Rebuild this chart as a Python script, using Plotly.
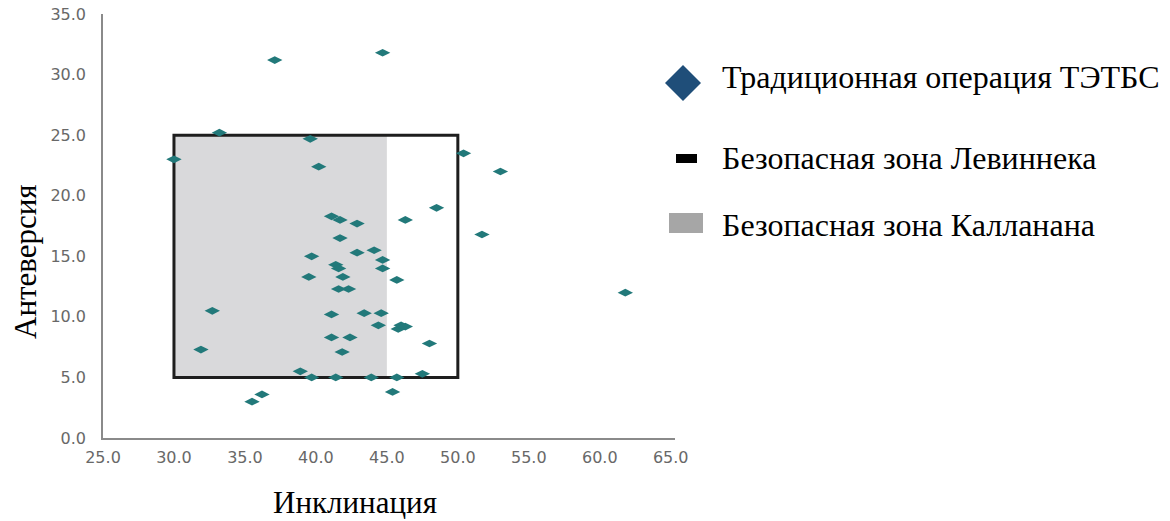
import plotly.graph_objects as go

# Inclination / anteversion measurements (degrees)
inclination = [30.0, 33.2, 37.1, 44.7, 39.6, 40.2, 41.1, 41.7, 42.9, 46.3,
               48.5, 50.4, 53.0, 51.7, 61.8, 41.7, 39.7, 42.9, 44.1, 44.7,
               44.7, 41.4, 41.6, 39.5, 41.9, 45.7, 41.6, 42.3, 32.7, 31.9,
               41.1, 43.4, 44.6, 44.4, 45.8, 46.0, 46.3, 48.0, 41.1, 42.4,
               41.85, 38.9, 39.7, 41.4, 43.9, 45.7, 47.5, 45.4, 35.5, 36.2]
anteversion = [23.0, 25.2, 31.2, 31.8, 24.7, 22.4, 18.3, 18.0, 17.7, 18.0,
               19.0, 23.5, 22.0, 16.8, 12.0, 16.5, 15.0, 15.3, 15.5, 14.7,
               14.0, 14.3, 14.0, 13.3, 13.3, 13.05, 12.3, 12.3, 10.5, 7.3,
               10.2, 10.3, 10.3, 9.3, 9.0, 9.3, 9.2, 7.8, 8.3, 8.3,
               7.1, 5.5, 5.0, 5.0, 5.0, 5.0, 5.3, 3.8, 3.0, 3.6]

# Safe zones: [x0, x1], [y0, y1]
lewinnek_incl = [30.0, 50.0]
lewinnek_ante = [5.0, 25.0]
callanan_incl = [30.0, 45.0]
callanan_ante = [5.0, 25.0]

x_ticks = [25, 30, 35, 40, 45, 50, 55, 60, 65]
y_ticks = [0, 5, 10, 15, 20, 25, 30, 35]

legend_labels = ["Традиционная операция ТЭТБС",
                 "Безопасная зона Левиннека",
                 "Безопасная зона Калланана"]

fig = go.Figure()

fig.add_trace(go.Scatter(
    x=inclination, y=anteversion, mode="markers",
    marker=dict(symbol="diamond-wide", size=11, color="#22797a",
                line=dict(width=0)),
    showlegend=False, hoverinfo="x+y", cliponaxis=False))

# Callanan zone (grey fill)
fig.add_shape(type="rect", xref="x", yref="y",
              x0=callanan_incl[0], x1=callanan_incl[1],
              y0=callanan_ante[0], y1=callanan_ante[1],
              fillcolor="#d9d9db", line=dict(width=0), layer="below")
# Lewinnek zone (black outline)
fig.add_shape(type="rect", xref="x", yref="y",
              x0=lewinnek_incl[0], x1=lewinnek_incl[1],
              y0=lewinnek_ante[0], y1=lewinnek_ante[1],
              fillcolor="rgba(0,0,0,0)", line=dict(width=3, color="#1e1e1e"),
              layer="below")

# Page geometry (pixels) used to place the hand-built legend and titles
W, H = 1170, 521
ML, MR, MT, MB = 103, 495, 14, 83
pw, ph = W - ML - MR, H - MT - MB


def px(xp):
    return (xp - ML) / pw


def py(yp):
    return (H - MB - yp) / ph


fig.add_shape(type="path", xref="paper", yref="paper",
              xsizemode="pixel", ysizemode="pixel",
              xanchor=px(683), yanchor=py(83),
              path="M -18 0 L 0 18 L 18 0 L 0 -18 Z",
              fillcolor="#1f4e79", line=dict(width=0))
fig.add_shape(type="rect", xref="paper", yref="paper",
              xsizemode="pixel", ysizemode="pixel",
              xanchor=px(686.5), yanchor=py(158.5),
              x0=-10.5, x1=10.5, y0=-4.5, y1=4.5,
              fillcolor="#000000", line=dict(width=0))
fig.add_shape(type="rect", xref="paper", yref="paper",
              xsizemode="pixel", ysizemode="pixel",
              xanchor=px(686), yanchor=py(223),
              x0=-17, x1=17, y0=-10, y1=10,
              fillcolor="#a6a6a6", line=dict(width=0))

serif = "Liberation Serif"
for label, yp in zip(legend_labels, [77, 158, 225]):
    fig.add_annotation(text=label, xref="paper", yref="paper",
                       x=px(720), y=py(yp), xanchor="left", yanchor="middle",
                       showarrow=False,
                       font=dict(family=serif, size=32, color="#000000"))

# Axis titles
fig.add_annotation(text="Инклинация", xref="paper", yref="paper",
                   x=px(355), y=py(503), xanchor="center", yanchor="middle",
                   showarrow=False,
                   font=dict(family=serif, size=31, color="#000000"))
fig.add_annotation(text="Антеверсия", xref="paper", yref="paper",
                   x=px(25), y=py(262), xanchor="center", yanchor="middle",
                   textangle=-90, showarrow=False,
                   font=dict(family=serif, size=31, color="#000000"))

tick_font = dict(family="DejaVu Sans", size=16, color="#686868")

fig.update_xaxes(range=[25, 65.3], tickvals=x_ticks,
                 ticktext=[f"{v:.1f}" for v in x_ticks],
                 showgrid=False, zeroline=False, showline=True,
                 linecolor="#8a8a8a", linewidth=1.5, ticks="",
                 tickfont=tick_font, ticklabelstandoff=4, automargin=False)
fig.update_yaxes(range=[0, 35], tickvals=y_ticks,
                 ticktext=[f"{v:.1f}" for v in y_ticks],
                 showgrid=False, zeroline=False, showline=True,
                 linecolor="#8a8a8a", linewidth=1.5, ticks="",
                 tickfont=tick_font, ticklabelstandoff=12, automargin=False)

fig.update_layout(width=W, height=H,
                  margin=dict(l=ML, r=MR, t=MT, b=MB, autoexpand=False),
                  plot_bgcolor="white", paper_bgcolor="white",
                  showlegend=False)

fig.write_html("out.html")
